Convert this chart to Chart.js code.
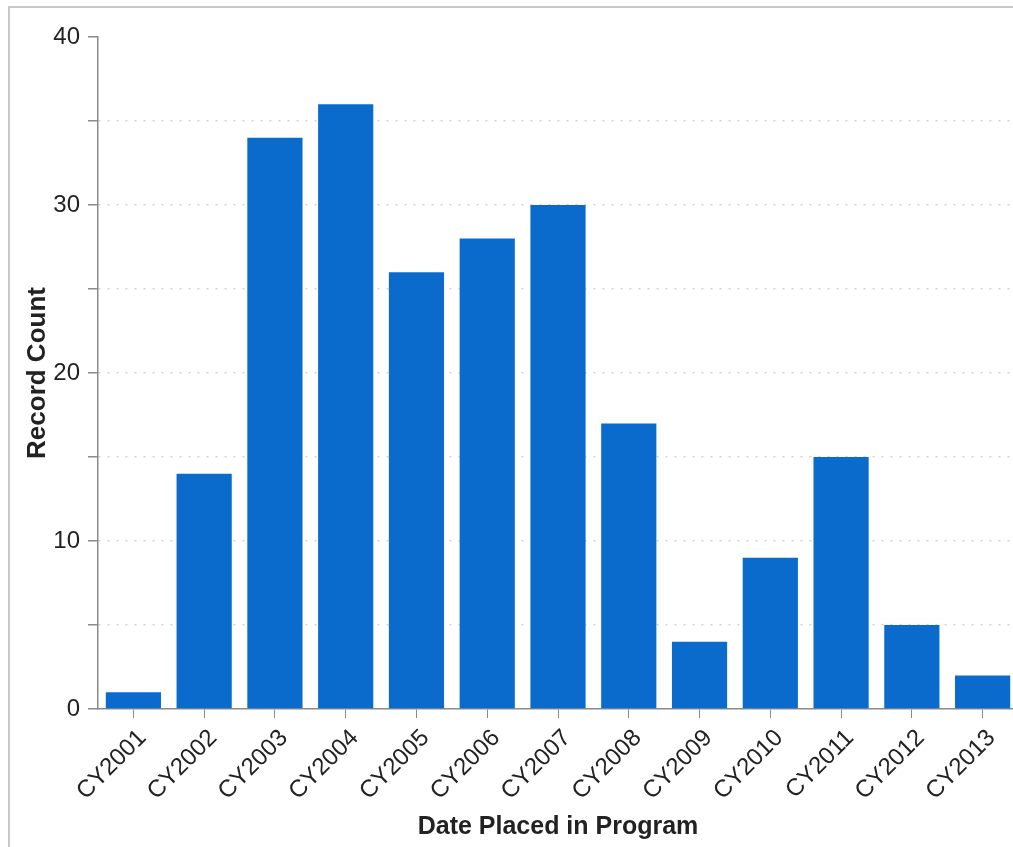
<!DOCTYPE html>
<html>
<head>
<meta charset="utf-8">
<script src="https://cdn.jsdelivr.net/npm/chart.js@4/dist/chart.umd.min.js"></script>
<style>
    html, body { margin: 0; padding: 0; background: #fff; overflow: hidden; }
    #frame {
        position: absolute; left: 8px; top: 6px; width: 1100px; height: 900px;
        border-top: 2px solid #c8c8c8; border-left: 2px solid #c8c8c8;
    }
    #wrap { position: absolute; left: 0; top: 0; width: 1018px; height: 847px; }
</style>
</head>
<body>
<div id="frame"></div>
<div id="wrap"><canvas id="chart-count"></canvas></div>
<script>
// Record counts per calendar year
var years = ['CY2001', 'CY2002', 'CY2003', 'CY2004', 'CY2005', 'CY2006', 'CY2007',
             'CY2008', 'CY2009', 'CY2010', 'CY2011', 'CY2012', 'CY2013'];
var recordCounts = [1, 14, 34, 36, 26, 28, 30, 17, 4, 9, 15, 5, 2];
var yLabelTicks = [0, 10, 20, 30, 40];

var axisGray = '#8a8a8a';
var fontFamily = '"Liberation Sans", Arial, sans-serif';

var ctx = document.getElementById('chart-count');
new Chart(ctx, {
    type: 'bar',
    data: {
        labels: years,
        datasets: [{
            label: 'Record Count',
            data: recordCounts,
            backgroundColor: '#0b6bcd',
            borderWidth: 0,
            categoryPercentage: 1.0,
            barPercentage: 0.78
        }]
    },
    options: {
        responsive: true,
        maintainAspectRatio: false,
        animation: false,
        layout: { padding: { top: 37, left: 0, right: 0, bottom: 0 } },
        plugins: {
            legend: { display: false },
            tooltip: { enabled: false }
        },
        scales: {
            x: {
                offset: true,
                grid: {
                    offset: false,
                    drawOnChartArea: false,
                    drawTicks: true,
                    tickLength: 9,
                    tickColor: axisGray
                },
                border: { display: true, color: axisGray, width: 1.5 },
                ticks: {
                    maxRotation: 45,
                    minRotation: 45,
                    padding: 6,
                    labelOffset: 9,
                    color: '#222',
                    font: { family: fontFamily, size: 24 }
                },
                title: {
                    display: true,
                    text: 'Date Placed in Program',
                    color: '#222',
                    padding: { top: 0, bottom: 5 },
                    font: { family: fontFamily, size: 25, weight: 'bold' }
                },
                afterFit: function(scale) { scale.height = 138; }
            },
            y: {
                min: 0,
                max: 40,
                grid: {
                    drawTicks: true,
                    tickLength: 10,
                    tickColor: axisGray,
                    lineWidth: 1.5,
                    color: function(c) {
                        var v = c.tick ? c.tick.value : 0;
                        return (v === 0 || v === 40) ? 'rgba(0,0,0,0)' : '#d2d2d2';
                    }
                },
                border: { display: true, color: axisGray, width: 1.5, dash: [2, 7] },
                ticks: {
                    stepSize: 5,
                    padding: 8,
                    color: '#222',
                    font: { family: fontFamily, size: 24 },
                    callback: function(value) {
                        return yLabelTicks.indexOf(value) !== -1 ? value : '';
                    }
                },
                title: {
                    display: true,
                    text: 'Record Count',
                    color: '#222',
                    padding: { top: 22, bottom: 0 },
                    font: { family: fontFamily, size: 26, weight: 'bold' }
                },
                afterFit: function(scale) { scale.width = 98; }
            }
        }
    }
});
</script>
</body>
</html>
